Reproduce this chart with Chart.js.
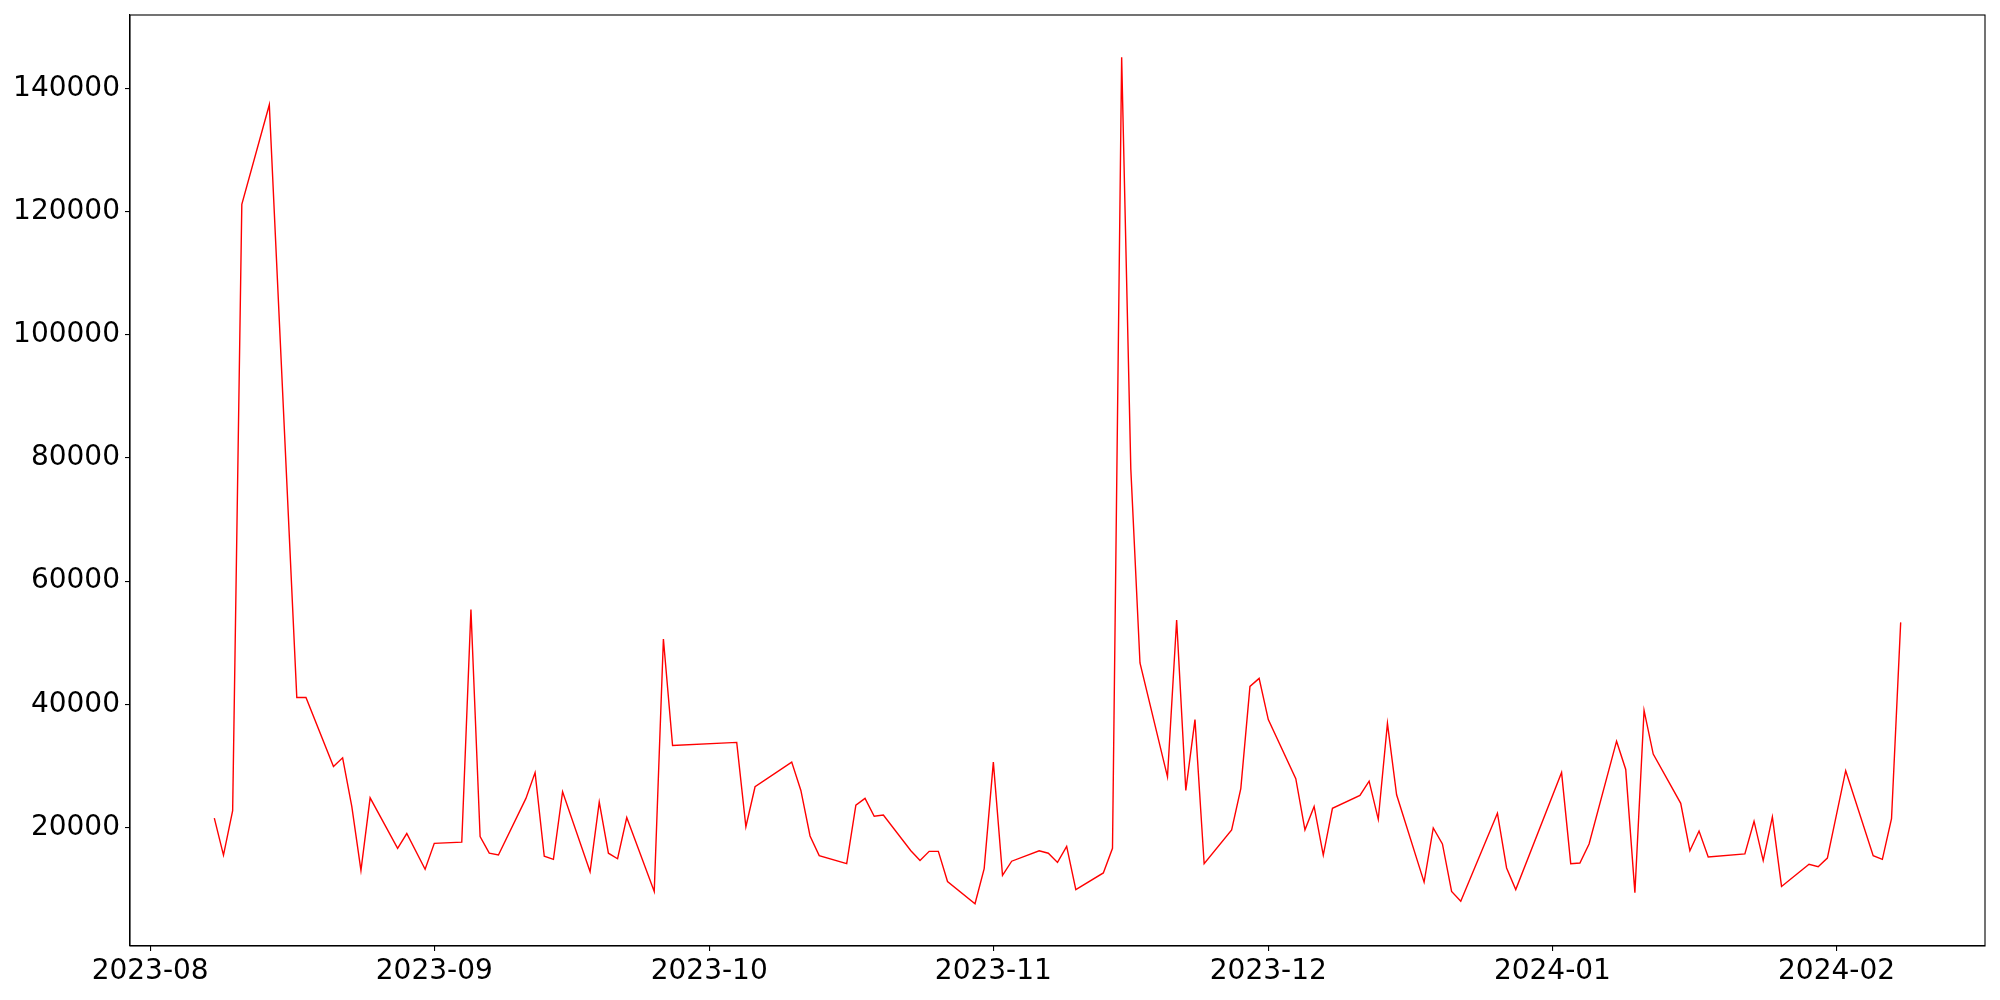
<!DOCTYPE html>
<html>
<head>
<meta charset="utf-8">
<script src="https://cdn.jsdelivr.net/npm/chart.js@4"></script>
<style>
  html, body { margin: 0; padding: 0; background: #fff; }
  canvas { display: block; }
</style>
</head>
<body>
<canvas id="chart" width="2000" height="1000"></canvas>
<script>
// Daily values (weekdays, some days missing)
const dates = [
    '2023-08-08', '2023-08-09', '2023-08-10', '2023-08-11', '2023-08-14', '2023-08-17', '2023-08-18',
    '2023-08-21', '2023-08-22', '2023-08-23', '2023-08-24', '2023-08-25', '2023-08-28', '2023-08-29',
    '2023-08-31', '2023-09-01', '2023-09-04', '2023-09-05', '2023-09-06', '2023-09-07', '2023-09-08',
    '2023-09-11', '2023-09-12', '2023-09-13', '2023-09-14', '2023-09-15', '2023-09-18', '2023-09-19',
    '2023-09-20', '2023-09-21', '2023-09-22', '2023-09-25', '2023-09-26', '2023-09-27', '2023-10-04',
    '2023-10-05', '2023-10-06', '2023-10-10', '2023-10-11', '2023-10-12', '2023-10-13', '2023-10-16',
    '2023-10-17', '2023-10-18', '2023-10-19', '2023-10-20', '2023-10-23', '2023-10-24', '2023-10-25',
    '2023-10-26', '2023-10-27', '2023-10-30', '2023-10-31', '2023-11-01', '2023-11-02', '2023-11-03',
    '2023-11-06', '2023-11-07', '2023-11-08', '2023-11-09', '2023-11-10', '2023-11-13', '2023-11-14',
    '2023-11-15', '2023-11-16', '2023-11-17', '2023-11-20', '2023-11-21', '2023-11-22', '2023-11-23',
    '2023-11-24', '2023-11-27', '2023-11-28', '2023-11-29', '2023-11-30', '2023-12-01', '2023-12-04',
    '2023-12-05', '2023-12-06', '2023-12-07', '2023-12-08', '2023-12-11', '2023-12-12', '2023-12-13',
    '2023-12-14', '2023-12-15', '2023-12-18', '2023-12-19', '2023-12-20', '2023-12-21', '2023-12-22',
    '2023-12-26', '2023-12-27', '2023-12-28', '2024-01-02', '2024-01-03', '2024-01-04', '2024-01-05',
    '2024-01-08', '2024-01-09', '2024-01-10', '2024-01-11', '2024-01-12', '2024-01-15', '2024-01-16',
    '2024-01-17', '2024-01-18', '2024-01-22', '2024-01-23', '2024-01-24', '2024-01-25', '2024-01-26',
    '2024-01-29', '2024-01-30', '2024-01-31', '2024-02-02', '2024-02-05', '2024-02-06', '2024-02-07',
    '2024-02-08'
];
const values = [
    21500, 15500, 22700, 121200, 137400, 41100, 41100,
    29900, 31300, 23400, 13000, 24800, 16600, 19000,
    13200, 17400, 17600, 55400, 18500, 15800, 15500,
    24700, 28900, 15300, 14800, 25800, 12800, 24100,
    15800, 14900, 21600, 9600, 50600, 33300, 33800,
    20100, 26600, 30600, 26000, 18600, 15400, 14100,
    23600, 24700, 21800, 22000, 16200, 14600, 16100,
    16100, 11200, 7600, 13300, 30600, 12200, 14500,
    16200, 15800, 14300, 16900, 9900, 12600, 16600,
    145100, 78200, 46700, 28200, 53700, 26000, 37500,
    14100, 19600, 26300, 42900, 44200, 37500, 27900,
    19600, 23400, 15500, 23100, 25200, 27500, 21300,
    36900, 25300, 11100, 19900, 17300, 9600, 8000,
    22300, 13400, 9900, 28900, 14100, 14200, 17300,
    34000, 29400, 9400, 39000, 31900, 23900, 16200,
    19400, 15200, 15700, 21000, 14600, 21700, 10400,
    14000, 13600, 15000, 29200, 15400, 14800, 21400,
    53300
];

const xTickDates = ['2023-08-01', '2023-09-01', '2023-10-01', '2023-11-01', '2023-12-01', '2024-01-01', '2024-02-01'];
const xTickLabels = ['2023-08', '2023-09', '2023-10', '2023-11', '2023-12', '2024-01', '2024-02'];
const yTicks = [20000, 40000, 60000, 80000, 100000, 120000, 140000];

const toTime = s => Date.parse(s + 'T00:00:00Z');
const points = dates.map((d, i) => ({ x: toTime(d), y: values[i] }));

// matplotlib-like 5% margins
const xFirst = points[0].x, xLast = points[points.length - 1].x;
const xPad = (xLast - xFirst) * 0.05;
const yMin = Math.min(...values), yMax = Math.max(...values);
const yPad = (yMax - yMin) * 0.05;

const tickFont = { family: 'DejaVu Sans', size: 28 };

// full box around the plot area
const frame = {
    id: 'frame',
    afterDraw(chart) {
        const a = chart.chartArea, ctx = chart.ctx;
        ctx.save();
        ctx.strokeStyle = '#000';
        ctx.lineWidth = 1.1;
        ctx.strokeRect(a.left, a.top, a.right - a.left, a.bottom - a.top);
        ctx.restore();
    }
};

new Chart(document.getElementById('chart'), {
    type: 'line',
    data: {
        datasets: [{
            data: points,
            borderColor: '#ff0000',
            borderWidth: 1.4,
            pointRadius: 0,
            tension: 0,
            fill: false
        }]
    },
    options: {
        responsive: false,
        animation: false,
        devicePixelRatio: 1,
        layout: { padding: { top: 15, right: 15, left: 0, bottom: 0 } },
        plugins: { legend: { display: false }, tooltip: { enabled: false } },
        scales: {
            x: {
                type: 'linear',
                min: xFirst - xPad,
                max: xLast + xPad,
                afterFit: function(scale) {
                    scale.height = 54;
                    scale.paddingLeft = 0;
                    scale.paddingRight = 0;
                },
                afterBuildTicks: function(scale) {
                    scale.ticks = xTickDates.map(d => ({ value: toTime(d) }));
                },
                ticks: {
                    autoSkip: false,
                    maxRotation: 0,
                    padding: 4,
                    color: '#000',
                    font: tickFont,
                    callback: function(value) {
                        const i = xTickDates.findIndex(d => toTime(d) === value);
                        return i >= 0 ? xTickLabels[i] : '';
                    }
                },
                grid: { drawOnChartArea: false, drawTicks: true, tickLength: 5, color: '#000', lineWidth: 1.1 },
                border: { display: true, color: '#000', width: 1.1 }
            },
            y: {
                min: yMin - yPad,
                max: yMax + yPad,
                afterFit: function(scale) {
                    scale.width = 130;
                    scale.paddingTop = 0;
                    scale.paddingBottom = 0;
                },
                afterBuildTicks: function(scale) {
                    scale.ticks = yTicks.map(v => ({ value: v }));
                },
                ticks: {
                    padding: 5,
                    color: '#000',
                    font: tickFont,
                    callback: function(value) { return String(value); }
                },
                grid: { drawOnChartArea: false, drawTicks: true, tickLength: 5, color: '#000', lineWidth: 1.1 },
                border: { display: true, color: '#000', width: 1.1 }
            }
        }
    },
    plugins: [frame]
});
</script>
</body>
</html>
